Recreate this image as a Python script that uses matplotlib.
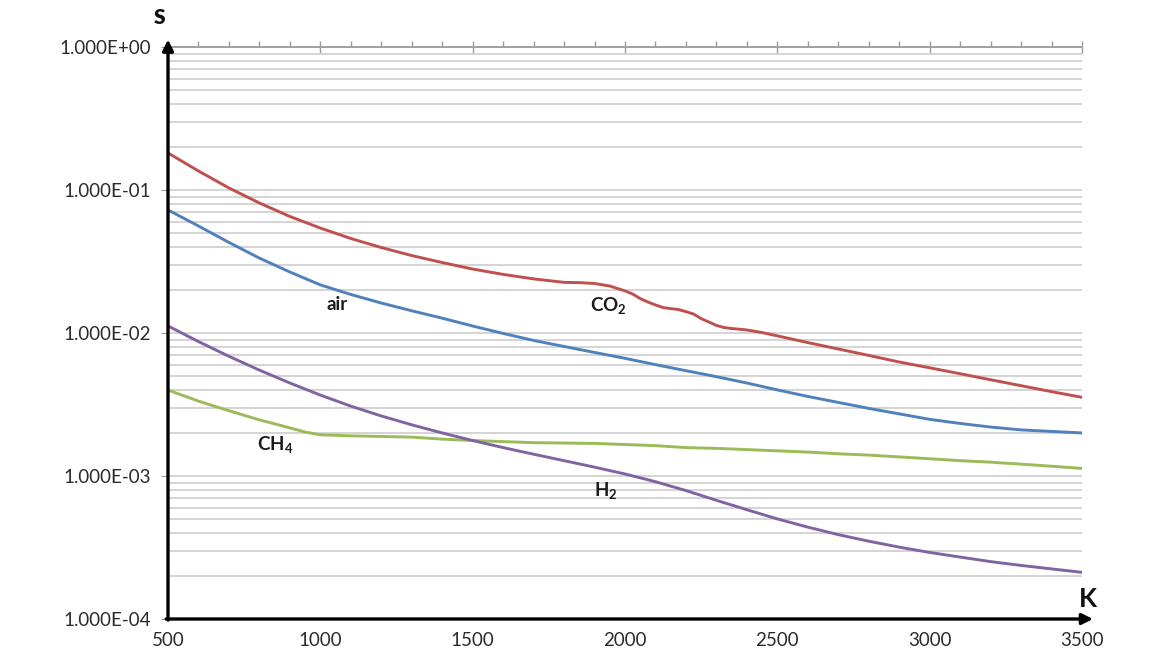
import numpy as np
import matplotlib
matplotlib.use("Agg")
import matplotlib.pyplot as plt
from matplotlib.ticker import FuncFormatter, MultipleLocator, LogLocator, NullFormatter

plt.rcParams['font.family'] = ['Lato', 'DejaVu Sans']
plt.rcParams['mathtext.fontset'] = 'custom'
plt.rcParams['mathtext.bf'] = 'Lato:bold'
plt.rcParams['mathtext.rm'] = 'Lato:bold'

# temperature grid, K
temp = [500, 600, 700, 800, 900, 1000, 1100, 1200, 1300, 1400, 1500, 1600,
        1700, 1800, 1900, 2000, 2100, 2200, 2300, 2400, 2500, 2600, 2700,
        2800, 2900, 3000, 3100, 3200, 3300, 3400, 3500]

air = [0.0725, 0.0560, 0.0430, 0.0334, 0.0267, 0.0217, 0.0186, 0.0162, 0.0143,
       0.0127, 0.01119, 0.00993, 0.00887, 0.00805, 0.00731, 0.00665, 0.00601,
       0.00545, 0.00495, 0.00447, 0.00400, 0.00360, 0.00327, 0.00297, 0.00272,
       0.00249, 0.00233, 0.00220, 0.00210, 0.00205, 0.00200]

h2 = [0.0112, 0.00871, 0.00687, 0.00550, 0.00447, 0.00368, 0.00308, 0.00263,
      0.00228, 0.00200, 0.00177, 0.00158, 0.00142, 0.00128, 0.001153, 0.001033,
      0.000912, 0.000791, 0.000676, 0.000581, 0.000501, 0.000439, 0.000389,
      0.000350, 0.000318, 0.000292, 0.000271, 0.000252, 0.000237, 0.000224,
      0.000212]

ch4_temp = [500, 600, 700, 800, 900, 950, 1000, 1100, 1200, 1300, 1400, 1500,
            1600, 1700, 1800, 1900, 2000, 2100, 2200, 2300, 2400, 2500, 2600,
            2700, 2800, 2900, 3000, 3100, 3200, 3300, 3400, 3500]
ch4 = [0.00399, 0.00334, 0.00286, 0.00247, 0.00217, 0.00203, 0.00194, 0.00191,
       0.00189, 0.00187, 0.00181, 0.00177, 0.00174, 0.00171, 0.00170, 0.00169,
       0.00166, 0.00163, 0.00158, 0.00156, 0.00153, 0.00150, 0.00147, 0.00143,
       0.00140, 0.00136, 0.00132, 0.00128, 0.00125, 0.00121, 0.00117, 0.00113]

co2_temp = [500, 600, 700, 800, 900, 1000, 1100, 1200, 1300, 1400, 1500, 1600,
            1700, 1800, 1850, 1900, 1950, 2000, 2025, 2050, 2075, 2100, 2125,
            2150, 2175, 2200, 2225, 2250, 2275, 2300, 2325, 2350, 2375, 2400,
            2450, 2500, 2600, 2700, 2800, 2900, 3000, 3100, 3200, 3300, 3400,
            3500]
co2 = [0.1815, 0.1358, 0.1033, 0.0811, 0.0653, 0.0542, 0.0458, 0.0396, 0.0348,
       0.0311, 0.0280, 0.0257, 0.0239, 0.0226, 0.0225, 0.0222, 0.0213, 0.0197,
       0.01874, 0.0174, 0.01648, 0.0157, 0.01508, 0.0148, 0.01460, 0.0141,
       0.01358, 0.0126, 0.01194, 0.0113, 0.01092, 0.01075, 0.01063, 0.0105,
       0.01007, 0.00955, 0.00857, 0.00773, 0.00697, 0.00627, 0.00571, 0.00519,
       0.00471, 0.00428, 0.00389, 0.00355]

fig = plt.figure(figsize=(11.64, 6.52), dpi=100)
ax = fig.add_axes([168 / 1164, 1 - 619 / 652, 914 / 1164, 572 / 652])

lw = 2.1
style = dict(lw=lw, solid_capstyle='round', solid_joinstyle='round')
ax.plot(co2_temp, co2, color='#c0504d', **style)
ax.plot(temp, air, color='#4f81bd', **style)
ax.plot(ch4_temp, ch4, color='#9bbb59', **style)
ax.plot(temp, h2, color='#8064a2', **style)

ax.set_yscale('log')
ax.set_xlim(500, 3500)
ax.set_ylim(1e-4, 1)

# horizontal grid on every decade and sub-decade
ax.yaxis.set_major_locator(LogLocator(base=10, numticks=10))
ax.yaxis.set_minor_locator(LogLocator(base=10, subs=np.arange(2, 10), numticks=20))
ax.yaxis.set_major_formatter(FuncFormatter(lambda v, p: f"{v:.3E}"))
ax.yaxis.set_minor_formatter(NullFormatter())
ax.grid(True, axis='y', which='both', color='#d4d4d4', lw=1.4)
ax.set_axisbelow(True)
ax.tick_params(axis='y', which='major', length=5, color='#999999', pad=7,
               labelsize=13.5, labelcolor='#2b2b2b')
ax.tick_params(axis='y', which='minor', length=0)

ax.xaxis.set_major_locator(MultipleLocator(500))
ax.xaxis.set_minor_locator(MultipleLocator(100))
ax.tick_params(axis='x', which='major', bottom=False, top=True, direction='inout',
               length=9, color='#999999', width=1.0, pad=5, labelsize=13.5,
               labelcolor='#2b2b2b')
ax.tick_params(axis='x', which='minor', bottom=False, top=True, direction='out',
               length=4, color='#999999', width=1.0)

for side in ['left', 'bottom', 'right']:
    ax.spines[side].set_visible(False)
ax.spines['top'].set_color('#a0a0a0')
ax.spines['top'].set_linewidth(1.4)

# axes drawn as arrows
arrow = dict(arrowstyle='-|>', color='black', lw=2.4, mutation_scale=16,
             shrinkA=0, shrinkB=0)
ax.annotate('', xy=(0, 1.013), xytext=(0, -0.002), xycoords='axes fraction',
            arrowprops=arrow, annotation_clip=False)
ax.annotate('', xy=(1.012, 0), xytext=(-0.002, 0), xycoords='axes fraction',
            arrowprops=arrow, annotation_clip=False)

ax.text(-0.009, 1.051, 'S', transform=ax.transAxes, ha='center', va='center',
        fontsize=15, fontweight='heavy', color='#111111')
ax.text(1.0066, 0.035, 'K', transform=ax.transAxes, ha='center', va='center',
        fontsize=19, fontweight='bold', color='#111111')

lab = dict(ha='center', va='center', fontsize=13.5, fontweight='bold', color='#1a1a1a')
ax.text(1055, 0.0157, 'air', **lab)
ax.text(1944, 0.01545, r'CO$_\mathbf{2}$', **lab)
ax.text(851, 0.00165, r'CH$_\mathbf{4}$', **lab)
ax.text(1938, 0.000785, r'H$_\mathbf{2}$', **lab)

fig.savefig('out.png', dpi=100)
